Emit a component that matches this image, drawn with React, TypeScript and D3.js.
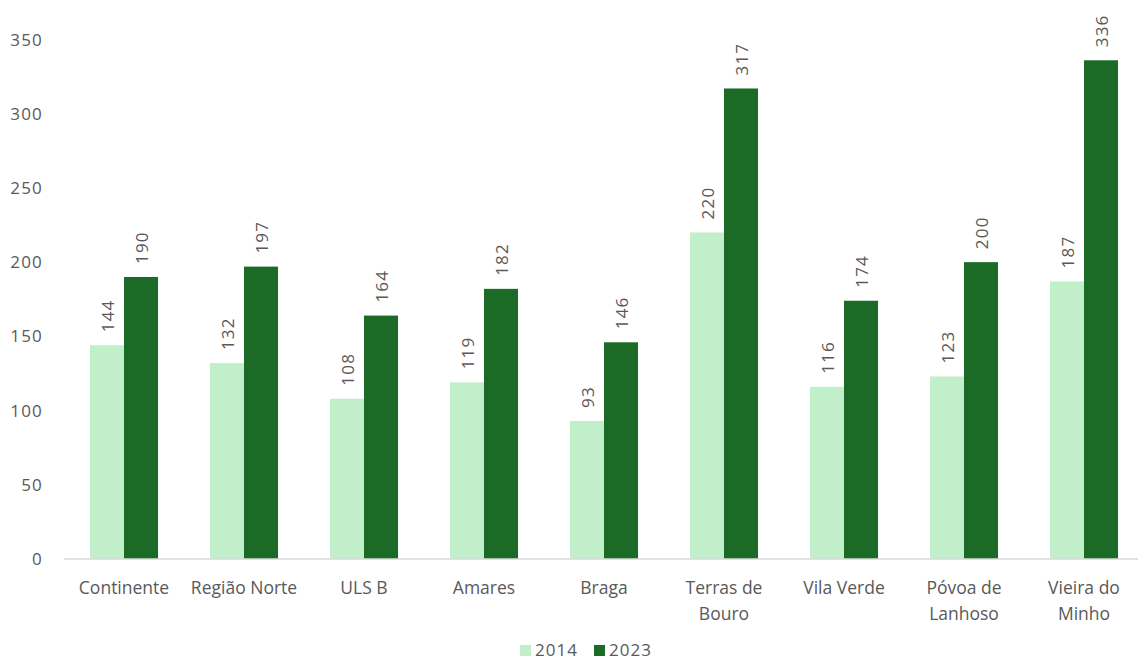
import React from "react";
import * as d3 from "d3";

const categories: string[][] = [
  ["Continente"],
  ["Região Norte"],
  ["ULS B"],
  ["Amares"],
  ["Braga"],
  ["Terras de", "Bouro"],
  ["Vila Verde"],
  ["Póvoa de", "Lanhoso"],
  ["Vieira do", "Minho"],
];
const series2014 = [144, 132, 108, 119, 93, 220, 116, 123, 187];
const series2023 = [190, 197, 164, 182, 146, 317, 174, 200, 336];
const seriesNames = ["2014", "2023"];
const yTicks = [0, 50, 100, 150, 200, 250, 300, 350];

const W = 1138;
const H = 662;
const colors = ["#c1efc9", "#1b6b27"];
const textColor = "#595959";
const font = "'Open Sans', 'Noto Sans', sans-serif";

export default function App() {
  const keys = categories.map((c) => c.join(" "));
  const x = d3.scaleBand<string>().domain(keys).range([64, 1144]).paddingInner(0.4333).paddingOuter(0.2167);
  const y = d3.scaleLinear().domain([0, 350]).range([559, 39.5]);
  const sub = d3.scaleBand<number>().domain([0, 1]).range([0, x.bandwidth()]);
  const all = [series2014, series2023];
  return (
    <svg width={W} height={H} style={{ position: "absolute", left: 0, top: 0 }} fontFamily={font}>
      <rect width={W} height={H} fill="#fff" />
      {yTicks.map((t) => (
        <text key={t} x={43} y={y(t)} dy="0.36em" textAnchor="end" fontSize={17} letterSpacing={1.2} fill={textColor}>
          {t}
        </text>
      ))}
      {all.map((s, si) =>
        s.map((v, i) => {
          const bx = (x(keys[i]) as number) + (sub(si) as number);
          const bw = sub.bandwidth();
          return (
            <g key={`${si}-${i}`}>
              <rect x={bx} y={y(v)} width={bw} height={y(0) - y(v)} fill={colors[si]} />
              <text
                transform={`translate(${bx + bw / 2 + 1},${y(v) - 13}) rotate(-90)`}
                dy="0.36em"
                textAnchor="start"
                fontSize={17}
                letterSpacing={1.2}
                fill={textColor}
              >
                {v}
              </text>
            </g>
          );
        })
      )}
      <line x1={64} x2={1138} y1={y(0)} y2={y(0)} stroke="#d9d9d9" strokeWidth={1.5} />
      {categories.map((c, i) => (
        <text key={i} x={(x(keys[i]) as number) + x.bandwidth() / 2} y={594} textAnchor="middle" fontSize={17.5} fill={textColor}>
          {c.map((line, li) => (
            <tspan key={li} x={(x(keys[i]) as number) + x.bandwidth() / 2} dy={li === 0 ? 0 : 26}>
              {line}
            </tspan>
          ))}
        </text>
      ))}
      {seriesNames.map((n, i) => {
        const lx = 520 + i * 74;
        return (
          <g key={n}>
            <rect x={lx} y={645} width={11} height={11} fill={colors[i]} />
            <text x={lx + 15} y={656} fontSize={17} letterSpacing={1} fill={textColor}>
              {n}
            </text>
          </g>
        );
      })}
    </svg>
  );
}
